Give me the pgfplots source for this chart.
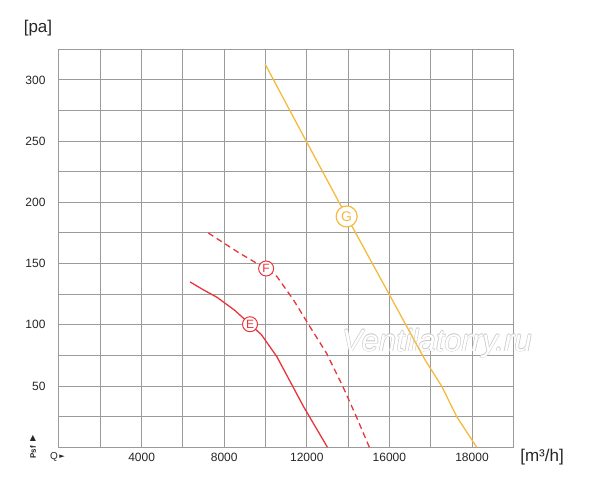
\documentclass[border=0pt]{standalone}
\usepackage{fontspec}
\setmainfont{Liberation Sans}
\newfontfamily\symfont{DejaVu Sans}
\usepackage{pgfplots}
\usepackage{pgfplotstable}
\pgfplotsset{compat=1.18}

\definecolor{gridgray}{RGB}{155,155,155}
\definecolor{cred}{RGB}{232,52,58}
\definecolor{cyel}{RGB}{245,186,62}

% curves: Q in m3/h, psf in Pa
\pgfplotstableread{
x y
6350 135
7000 128.5
7650 122.5
8500 112
9250 100.5
9800 92
10550 74
11850 33
13000 0
}\curveE
\pgfplotstableread{
x y
7230 175
8650 159.5
10050 145.5
10550 139.5
11350 120.5
12150 98.5
12950 77
13750 49.5
14400 25
15030 0
}\curveF
\pgfplotstableread{
x y
9980 313
11860 253.5
13930 188.5
17720 71.5
18530 50
19260 25
20230 0
}\curveG

\tikzset{wm/.style={font=\itshape\fontsize{31}{31}\selectfont}}

\begin{document}
\begin{tikzpicture}
\useasboundingbox (-59pt,-39.7pt) rectangle (541pt,447.3pt);
\begin{axis}[
    at={(0,0)}, anchor=south west,
    scale only axis,
    width=454.3pt, height=398pt,
    xmin=0, xmax=22000, ymin=0, ymax=325,
    xtick={2000,4000,...,20000},
    xticklabels={{},4000,{},8000,{},12000,{},16000,{},18000},
    ytick={25,50,...,300},
    yticklabels={{},50,{},100,{},150,{},200,{},250,{},300},
    grid=major,
    major grid style={gridgray, line width=1pt},
    axis line style={gridgray, line width=1pt},
    major tick length=0pt,
    tick label style={font=\fontsize{12}{14}\selectfont, text=black!85},
    yticklabel style={xshift=-10pt},
    xticklabel style={yshift=-2.4pt},
    scaled x ticks=false,
    clip=false,
]
% watermark
\node[wm, text=black!22, xshift=0.6pt] at (axis cs:18300,85) {Ventilatorry.ru};
\node[wm, text=black!22, xshift=-0.6pt] at (axis cs:18300,85) {Ventilatorry.ru};
\node[wm, text=black!22, yshift=0.6pt] at (axis cs:18300,85) {Ventilatorry.ru};
\node[wm, text=black!22, yshift=-0.6pt] at (axis cs:18300,85) {Ventilatorry.ru};
\node[wm, text=white] at (axis cs:18300,85) {Ventilatorry.ru};

\addplot[cred, line width=1.3pt] table {\curveE};
\addplot[cred, line width=1.3pt, dash pattern=on 6pt off 4pt] table {\curveF};
\addplot[cyel, line width=1.3pt] table {\curveG};

\addplot[draw=none, nodes near coords={E}, nodes near coords align=center,
    every node near coord/.append style={circle, draw=cred, fill=white, text=cred,
      line width=1pt, inner sep=0pt, minimum size=15pt,
      font=\fontsize{12}{12}\selectfont}]
    coordinates {(9250,100.5)};
\addplot[draw=none, nodes near coords={F}, nodes near coords align=center,
    every node near coord/.append style={circle, draw=cred, fill=white, text=cred,
      line width=1pt, inner sep=0pt, minimum size=15pt,
      font=\fontsize{12}{12}\selectfont}]
    coordinates {(10030,146)};
\addplot[draw=none, nodes near coords={G}, nodes near coords align=center,
    every node near coord/.append style={circle, draw=cyel, fill=white, text=cyel,
      line width=1.2pt, inner sep=0pt, minimum size=21pt,
      font=\fontsize{14}{14}\selectfont}]
    coordinates {(13930,188.5)};
\end{axis}

% axis captions
\node[font=\fontsize{17}{17}\selectfont, text=black!85] at (-21pt,419.3pt) {[pa]};
\node[font=\fontsize{17}{17}\selectfont, text=black!85] at (483pt,-9.7pt) {[m³/h]};
\node[font=\fontsize{10}{10}\selectfont, text=black!85] at (-5pt,-9.7pt) {Q};
\node[font=\symfont\fontsize{7}{7}\selectfont, text=black!85] at (3pt,-9.7pt) {►};
\node[font=\bfseries\fontsize{8}{8}\selectfont, text=black!85, rotate=90] at (-26pt,-5pt) {Psf};
\node[font=\symfont\fontsize{8}{8}\selectfont, text=black!85] at (-26pt,9.3pt) {▲};
\end{tikzpicture}
\end{document}
